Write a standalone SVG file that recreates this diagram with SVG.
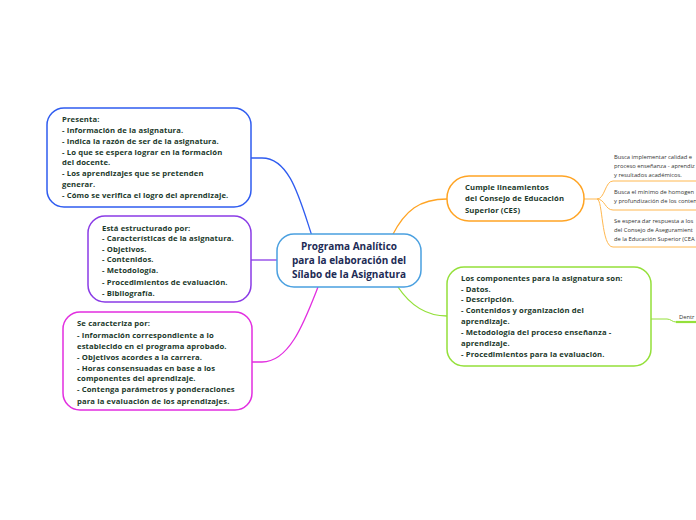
<svg xmlns="http://www.w3.org/2000/svg" width="696" height="520" viewBox="0 0 696 520">
<style>
.t{font-family:"Open Sans","Noto Sans",sans-serif;font-weight:700;font-size:7.7px;letter-spacing:0.12px;fill:#1c3a2c}
.c{font-family:"Open Sans","Noto Sans",sans-serif;font-weight:700;font-size:10px;fill:#1d2b55;text-anchor:middle}
.s{font-family:"Open Sans","Noto Sans",sans-serif;font-size:5.8px;fill:#333}
.box{fill:#fff;stroke-width:1.5}
.ln{fill:none;stroke-width:1.3}
</style>
<rect width="696" height="520" fill="#fff"/>
<g id="connectors">
<path class="ln" stroke="#2f5cf0" d="M251,158 L262,158 C290,158 300,200 312,236"/>
<path class="ln" stroke="#8a3be6" d="M251,260 L277,260"/>
<path class="ln" stroke="#e22ee0" d="M252,362 L262,362 C290,362 305,320 318,287"/>
<path class="ln" stroke="#ffa424" d="M392,236 C405,210 420,199 447,199"/>
<path class="ln" stroke="#94e03a" d="M398,287 C410,305 425,316 447,316"/>
<path fill="none" stroke="#ffb850" stroke-width="1" d="M584,199 L597,199 C605,199 605,181 613,181 L696,181 M597,199 C605,199 605,210 613,210 L696,210 M597,199 C603,199 601,247 613,247 L696,247"/>
<path fill="none" stroke="#94e03a" stroke-width="1" d="M651,319 L667,319 C671,319 672,322 676,322"/>
<path fill="none" stroke="#94e03a" stroke-width="2.2" d="M676,322 L696,322"/>
</g>
<g id="center">
<rect class="box" x="277" y="234" width="144" height="53" rx="17" stroke="#4aa0e0"/>
<text class="c" x="349" y="250">Programa Analítico</text>
<text class="c" x="349" y="264">para la elaboración del</text>
<text class="c" x="349" y="278">Sílabo de la Asignatura</text>
</g>
<g id="presenta">
<rect class="box" x="47" y="108" width="204" height="99" rx="17" stroke="#2f5cf0"/>
<text class="t" x="62" y="122">Presenta:</text>
<text class="t" x="62" y="133">- Información de la asignatura.</text>
<text class="t" x="62" y="144">- Indica la razón de ser de la asignatura.</text>
<text class="t" x="62" y="155">- Lo que se espera lograr en la formación</text>
<text class="t" x="62" y="165">del docente.</text>
<text class="t" x="62" y="176">- Los aprendizajes que se pretenden</text>
<text class="t" x="62" y="187">generar.</text>
<text class="t" x="62" y="198">- Cómo se verifica el logro del aprendizaje.</text>
</g>
<g id="estructurado">
<rect class="box" x="88" y="216" width="163" height="86" rx="17" stroke="#8a3be6"/>
<text class="t" x="102" y="231">Está estructurado por:</text>
<text class="t" x="102" y="241">- Características de la asignatura.</text>
<text class="t" x="102" y="252">- Objetivos.</text>
<text class="t" x="102" y="262">- Contenidos.</text>
<text class="t" x="102" y="273">- Metodología.</text>
<text class="t" x="102" y="285">- Procedimientos de evaluación.</text>
<text class="t" x="102" y="296">- Bibliografía.</text>
</g>
<g id="caracteriza">
<rect class="box" x="63" y="312" width="189" height="98" rx="17" stroke="#e22ee0"/>
<text class="t" x="77" y="326">Se caracteriza por:</text>
<text class="t" x="77" y="338">- Información correspondiente a lo</text>
<text class="t" x="77" y="349">establecido en el programa aprobado.</text>
<text class="t" x="77" y="360">- Objetivos acordes a la carrera.</text>
<text class="t" x="77" y="371">- Horas consensuadas en base a los</text>
<text class="t" x="77" y="381">componentes del aprendizaje.</text>
<text class="t" x="77" y="392">- Contenga parámetros y ponderaciones</text>
<text class="t" x="77" y="404">para la evaluación de los aprendizajes.</text>
</g>
<g id="ces">
<rect class="box" x="447" y="176" width="137" height="45" rx="22" stroke="#ffa424"/>
<text class="t" x="465" y="190">Cumple lineamientos</text>
<text class="t" x="465" y="201">del Consejo de Educación</text>
<text class="t" x="465" y="213">Superior (CES)</text>
</g>
<g id="ces-1">
<text class="s" x="614" y="159">Busca implementar calidad e</text>
<text class="s" x="614" y="168">proceso enseñanza - aprendiz</text>
<text class="s" x="614" y="177">y resultados académicos.</text>
</g>
<g id="ces-2">
<text class="s" x="614" y="194">Busca el mínimo de homogen</text>
<text class="s" x="614" y="203">y profundización de los conten</text>
</g>
<g id="ces-3">
<text class="s" x="614" y="223">Se espera dar respuesta a los</text>
<text class="s" x="614" y="232">del Consejo de Aseguramient</text>
<text class="s" x="614" y="241">de la Educación Superior (CEA</text>
</g>
<g id="componentes">
<rect class="box" x="447" y="267" width="204" height="99" rx="17" stroke="#94e03a"/>
<text class="t" x="461" y="281">Los componentes para la asignatura son:</text>
<text class="t" x="461" y="292">- Datos.</text>
<text class="t" x="461" y="302">- Descripción.</text>
<text class="t" x="461" y="313">- Contenidos y organización del</text>
<text class="t" x="461" y="324">aprendizaje.</text>
<text class="t" x="461" y="335">- Metodología del proceso enseñanza -</text>
<text class="t" x="461" y="346">aprendizaje.</text>
<text class="t" x="461" y="357">- Procedimientos para la evaluación.</text>
</g>
<g id="dentro">
<text class="s" x="679" y="319">Dentr</text>
</g>
</svg>
